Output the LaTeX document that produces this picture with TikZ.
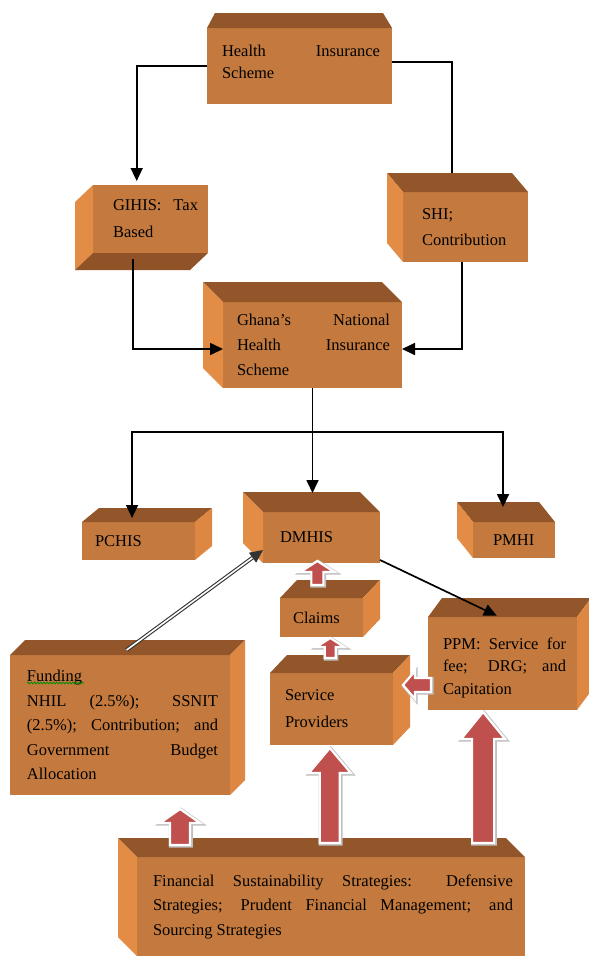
\documentclass[tikz,border=0pt]{standalone}
\usepackage{fontspec}
\setmainfont{Liberation Serif}
\usetikzlibrary{calc,arrows.meta,decorations.pathmorphing}
\definecolor{cfront}{HTML}{C47A3E}
\definecolor{ctop}{HTML}{93562A}
\definecolor{clight}{HTML}{E38C45}
\definecolor{cright}{HTML}{DD8743}
\definecolor{cbottom}{HTML}{8F5327}
\definecolor{arrred}{HTML}{C0504D}
\tikzset{
  front/.style={fill=cfront, anchor=north west, inner sep=0pt, outer sep=0pt, font=\fontsize{16.5}{24}\selectfont},
  conn/.style={draw=black, line width=1.7pt},
  arr/.style={conn, -{Triangle[length=13pt,width=12pt]}},
  dblarr/.style={draw=black!80, line width=1.1pt, double=white, double distance=1.6pt, -{Triangle[length=13pt,width=12pt]}},
  arrbody/.style={fill=arrred, draw=white, line width=2.2pt, line join=miter,
     preaction={draw=black!25, line width=3.8pt, transform canvas={xshift=0.8pt,yshift=-0.8pt}}},
}
\newcommand\jl[1]{\makebox[\linewidth][s]{#1}}
% name, x1, y1, x2, y2, left pad, right pad, content
\newcommand\frontbox[8]{\node[front, minimum width={#4pt-#2pt}, minimum height={#5pt-#3pt}] (#1) at (#2,#3)
  {\hspace*{#6pt}\parbox{\dimexpr #4pt-#2pt-#6pt-#7pt\relax}{#8}\hspace*{#7pt}};}
\newcommand\ftop[3]{\fill[ctop] (#1.north west) -- (#1.north east) -- ([shift={(#2,#3)}]#1.north east) -- ([shift={(#2,#3)}]#1.north west) -- cycle;}
\newcommand\fleft[3]{\fill[clight] (#1.north west) -- (#1.south west) -- ([shift={(#2,#3)}]#1.south west) -- ([shift={(#2,#3)}]#1.north west) -- cycle;}
\newcommand\fright[3]{\fill[cright] (#1.north east) -- (#1.south east) -- ([shift={(#2,#3)}]#1.south east) -- ([shift={(#2,#3)}]#1.north east) -- cycle;}
\newcommand\fbottom[3]{\fill[cbottom] (#1.south west) -- (#1.south east) -- ([shift={(#2,#3)}]#1.south east) -- ([shift={(#2,#3)}]#1.south west) -- cycle;}
% tail, tip, head length, head half width, shaft half width
\newcommand\blkup[5]{\path[arrbody] ($(#1)+(-#5,0)$) -- ($(#2)+(-#5,#3)$) -- ($(#2)+(-#4,#3)$) -- (#2) -- ($(#2)+(#4,#3)$) -- ($(#2)+(#5,#3)$) -- ($(#1)+(#5,0)$) -- cycle;}
\newcommand\blkleft[5]{\path[arrbody] ($(#1)+(0,-#5)$) -- ($(#2)+(#3,-#5)$) -- ($(#2)+(#3,-#4)$) -- (#2) -- ($(#2)+(#3,#4)$) -- ($(#2)+(#3,#5)$) -- ($(#1)+(0,#5)$) -- cycle;}
\begin{document}
\begin{tikzpicture}[x=1pt,y=-1pt]
\fill[white] (0,0) rectangle (589,956);
\useasboundingbox (0,0) rectangle (589,956);

% Health Insurance Scheme
\frontbox{hi}{207}{28}{392}{104}{15}{12}{\fontsize{16.5}{22}\selectfont\jl{Health Insurance}\\Scheme\par\vspace{8pt}}
\fill[ctop] (hi.north west) -- (hi.north east) -- ([shift={(-9,-15)}]hi.north east) -- ([shift={(8,-15)}]hi.north west) -- cycle;

% GIHIS
\frontbox{gi}{93}{185}{208}{253}{20}{10}{\fontsize{16.5}{27}\selectfont\jl{GIHIS: Tax}\\Based}
\fleft{gi}{-18}{17}\fbottom{gi}{-18}{17}

% SHI
\frontbox{shi}{403}{192}{528}{262}{19}{18}{\fontsize{16.5}{26}\selectfont SHI;\\Contribution}
\ftop{shi}{-16}{-19}\fleft{shi}{-16}{-19}

% Ghana's NHIS
\frontbox{gn}{223}{302}{402}{388}{14}{12}{\fontsize{16.5}{25}\selectfont\jl{Ghana's National}\\\jl{Health Insurance}\\Scheme}
\ftop{gn}{-20}{-20}\fleft{gn}{-20}{-20}

% PCHIS, DMHIS, PMHI
\frontbox{pc}{82}{522}{195}{560}{13}{5}{PCHIS}
\ftop{pc}{17}{-14}\fright{pc}{17}{-14}
\frontbox{dm}{263}{512}{380}{563}{17}{5}{DMHIS}
\ftop{dm}{-20}{-20}\fleft{dm}{-20}{-20}
\frontbox{pm}{473}{522}{555}{558}{20}{2}{PMHI}
\ftop{pm}{-16}{-20}\fleft{pm}{-16}{-20}

% Claims
\frontbox{cl}{280}{598}{363}{637}{13}{4}{Claims}
\ftop{cl}{17}{-18}\fright{cl}{17}{-18}

% PPM
\frontbox{ppm}{428}{617}{577}{710}{15}{11}{\fontsize{16.5}{22.5}\selectfont\vspace*{8pt}\jl{PPM: Service for}\\\jl{fee; DRG; and}\\Capitation}
\ftop{ppm}{14}{-19}\fright{ppm}{14}{-19}

% Service Providers
\frontbox{sp}{270}{673}{393}{745}{15}{5}{\fontsize{16.5}{27}\selectfont Service\\Providers}
\ftop{sp}{17}{-18}\fright{sp}{17}{-18}

% Funding
\frontbox{fund}{10}{655}{230}{795}{17}{12}{\fontsize{16.5}{24.5}\selectfont Funding\\\jl{NHIL (2.5\%); SSNIT}\\\jl{(2.5\%); Contribution; and}\\\jl{Government Budget}\\Allocation}
\ftop{fund}{15}{-15}\fright{fund}{15}{-15}
\draw[green!55!black, line width=0.8pt, decorate, decoration={snake,amplitude=0.9pt,segment length=3.2pt}]
  ([shift={(17,28)}]fund.north west) -- ([shift={(74,28)}]fund.north west);

% Financial sustainability
\frontbox{fin}{137}{857}{525}{956}{16}{12}{\fontsize{16.5}{24.5}\selectfont\jl{Financial Sustainability Strategies: Defensive}\\\jl{Strategies; Prudent Financial Management; and}\\Sourcing Strategies}
\ftop{fin}{-19}{-19}\fleft{fin}{-19}{-19}

% connectors
\draw[arr, shorten >=4pt] (hi.west) -| ($(gi.north west)!0.38!(gi.north east)$);
\draw[conn] ([yshift=4pt]hi.east) -| ($(shi.north west)!0.39!(shi.north east)+(0,-19)$);
\draw[arr] ($(gi.south west)!0.35!(gi.south east)+(0,6)$) |- ([yshift=-4pt]gn.west);
\draw[arr] ($(shi.south west)!0.47!(shi.south east)$) |- ([yshift=-4pt]gn.east);
\draw[arr, shorten >=19pt] (gn.south) -- (gn.south |- dm.north);
\coordinate (jn) at ($(gn.south)+(0,44)$);
\draw[arr, shorten >=4pt] (jn) -| ($(pc.north west)!0.443!(pc.north east)$);
\draw[arr, shorten >=15pt] (jn) -| ($(pm.north west)!0.366!(pm.north east)$);
\draw[dblarr] ($(fund.north west)!0.53!(fund.north east)+(0,-5)$) -- ([yshift=13pt]dm.south west);
\draw[arr, shorten >=3pt] ([yshift=3pt]dm.south east) -- ($(ppm.north west)!0.48!(ppm.north east)$);

% block arrows
\coordinate (a1t) at ($(cl.north west)!0.45!(cl.north east)+(0,-13)$);
\coordinate (a1h) at ($(a1t |- dm.south)+(0,-2)$);
\blkup{a1t}{a1h}{11}{17}{6}
\coordinate (a2t) at ($(sp.north west)!0.49!(sp.north east)+(0,-15)$);
\coordinate (a2h) at ($(a2t |- cl.south)+(0,1)$);
\blkup{a2t}{a2h}{9}{14}{5.5}
\coordinate (a3t) at ($(ppm.south west)+(3,-25)$);
\coordinate (a3h) at ($(a3t -| sp.east)+(10,0)$);
\blkleft{a3t}{a3h}{12}{14}{7}
\coordinate (a4t) at ($(fin.north west)!0.111!(fin.north east)+(0,-12)$);
\coordinate (a4h) at ($(a4t |- fund.south)+(0,14)$);
\blkup{a4t}{a4h}{14}{20}{10}
\coordinate (a5t) at ($(fin.north west)!0.497!(fin.north east)+(0,-14)$);
\coordinate (a5h) at ($(a5t |- sp.south)+(0,3)$);
\blkup{a5t}{a5h}{25}{21}{10}
\coordinate (a6t) at ($(fin.north west)!0.892!(fin.north east)+(0,-14)$);
\coordinate (a6h) at ($(a6t |- ppm.south)+(0,2)$);
\blkup{a6t}{a6h}{27}{22}{11}
\end{tikzpicture}
\end{document}
